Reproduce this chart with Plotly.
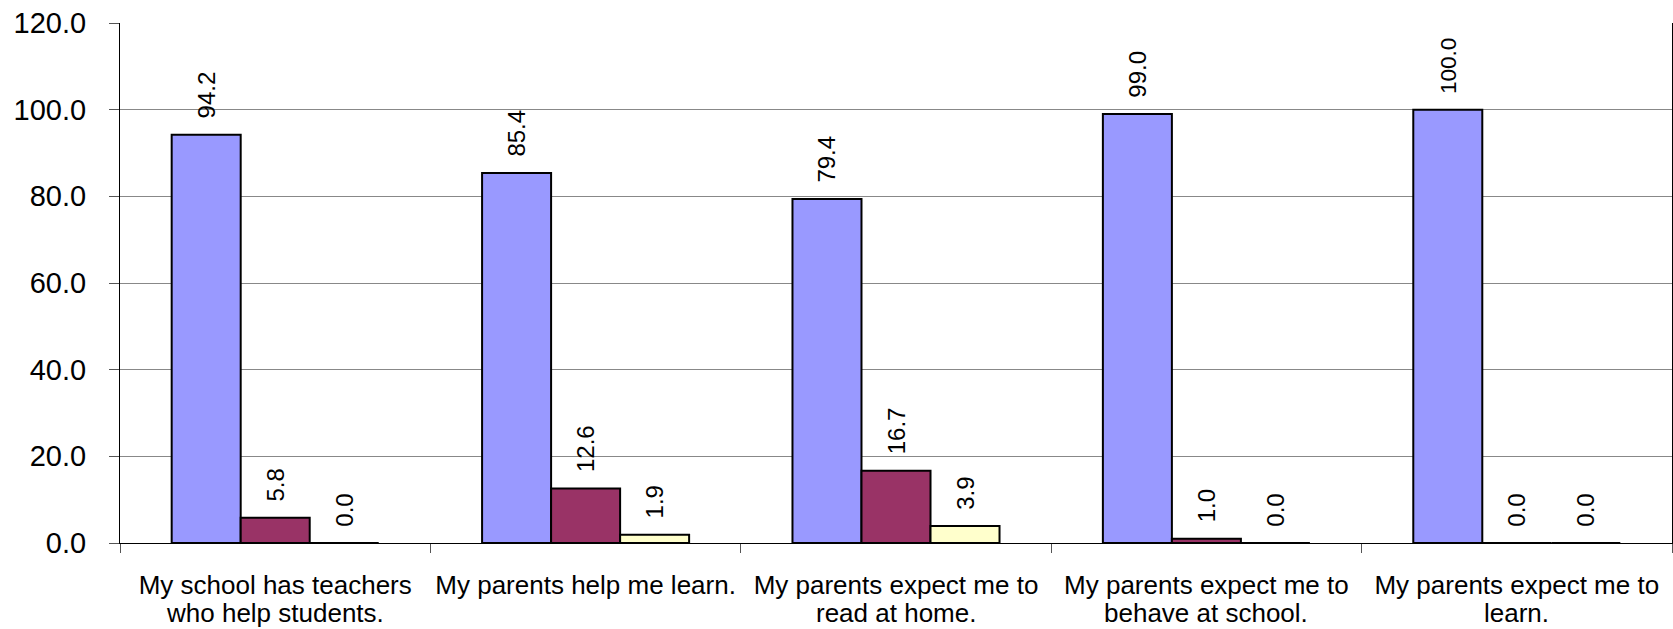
import plotly.graph_objects as go

categories = [
    "My school has teachers<br>who help students.",
    "My parents help me learn.",
    "My parents expect me to<br>read at home.",
    "My parents expect me to<br>behave at school.",
    "My parents expect me to<br>learn.",
]
series_a = [94.2, 85.4, 79.4, 99.0, 100.0]
series_b = [5.8, 12.6, 16.7, 1.0, 0.0]
series_c = [0.0, 1.9, 3.9, 0.0, 0.0]
y_ticks = [0, 20, 40, 60, 80, 100, 120]

colors = ["#9999FF", "#993366", "#FFFFCC"]
pad = "\u00a0\u00a0"
FONT = "Liberation Sans, Arial"

line1 = [c.split("<br>")[0] for c in categories]
line2 = [c.split("<br>")[1] if "<br>" in c else "" for c in categories]

fig = go.Figure()
for vals, col in zip([series_a, series_b, series_c], colors):
    fig.add_trace(go.Bar(
        x=categories, y=vals,
        marker=dict(color=col, line=dict(color="black", width=2)),
        text=[pad + f"{v:.1f}" for v in vals],
        textposition="outside", textangle=-90,
        textfont=dict(family=FONT, size=24, color="black"),
        cliponaxis=False, showlegend=False, hoverinfo="skip",
    ))

for cat, t in zip(categories, line2):
    if t:
        fig.add_annotation(
            x=cat, xref="x", y=0, yref="paper", yanchor="top",
            yshift=-53, text=t, showarrow=False,
            font=dict(family=FONT, size=26, color="black"),
        )

fig.update_layout(
    width=1673, height=629,
    margin=dict(l=120, r=1, t=23, b=86, autoexpand=False),
    paper_bgcolor="white", plot_bgcolor="white",
    barmode="group", bargap=0.333, bargroupgap=0,
    font=dict(family=FONT, color="black"),
    uniformtext=dict(mode=False),
)
fig.update_xaxes(
    type="category", tickson="boundaries", ticks="outside", ticklen=9,
    tickcolor="#555", showline=True, linecolor="black", linewidth=1,
    mirror=False, showgrid=False, automargin=False,
    tickvals=categories, ticktext=line1,
    ticklabelstandoff=19,
    tickfont=dict(size=26, color="black"),
)
fig.update_yaxes(
    range=[0, 120], tickvals=y_ticks, ticktext=[f"{v:.1f}" for v in y_ticks],
    ticks="outside", ticklen=10, tickcolor="#555",
    showline=True, linecolor="black", linewidth=1, mirror=True,
    showgrid=True, gridcolor="#888888", gridwidth=1,
    zeroline=False, automargin=False, ticklabelstandoff=17,
    tickfont=dict(size=29, color="black"),
)

fig.write_html(
    "out.html",
    config={"displayModeBar": False},
    post_script="document.body.style.margin='0';document.body.style.overflow='hidden';",
)
